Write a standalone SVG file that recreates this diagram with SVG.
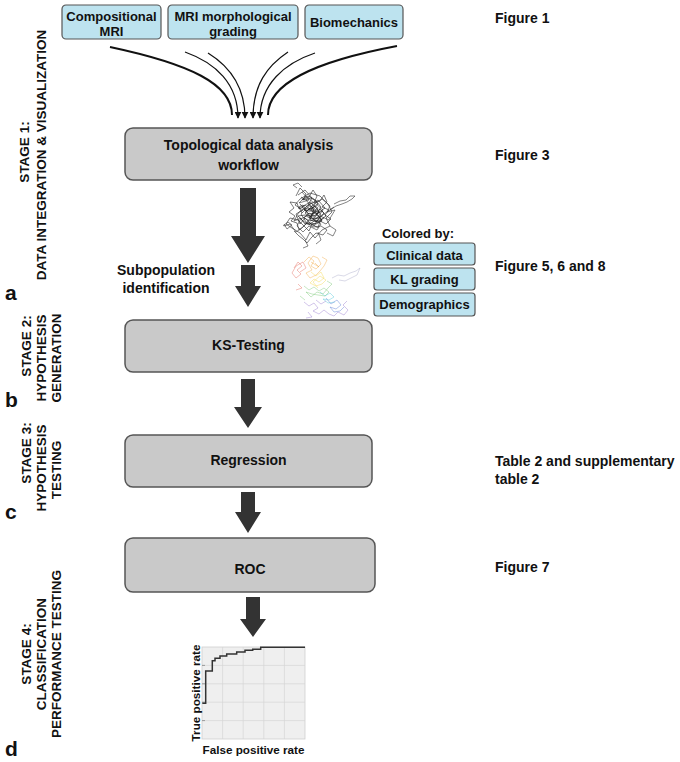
<svg xmlns="http://www.w3.org/2000/svg" width="680" height="762" viewBox="0 0 680 762">
<defs>
<style>
text{font-family:"Liberation Sans",Arial,sans-serif;font-weight:bold;fill:#111}
.t13{font-size:13px}
.t14{font-size:14px}
.lab{font-size:13.5px;text-anchor:middle}
.mid{text-anchor:middle}
.letter{font-size:21px}
.src{fill:#bde3ef;stroke:#555;stroke-width:1.2}
.step{fill:#c9c9c9;stroke:#555;stroke-width:1.5}
.big{fill:#333}
.cv{fill:none;stroke:#111;stroke-width:1.2}
.cvo{fill:none;stroke:#111;stroke-width:2}
.net{fill:none;stroke-width:0.6;stroke-linejoin:round}
.cnet{fill:none;stroke-width:0.6;stroke-linejoin:round;opacity:0.65}
.grid{stroke:#d6d6d6;stroke-width:0.7}
</style>
<marker id="ah" viewBox="0 0 10 10" refX="9" refY="5" markerWidth="7" markerHeight="7" markerUnits="userSpaceOnUse" orient="auto">
<path d="M0,0 L10,5 L0,10 Z" fill="#111"/>
</marker>
</defs>
<rect width="680" height="762" fill="#fff"/>

<g id="stage-labels">
<text class="lab" transform="translate(29,152) rotate(-90)">STAGE 1:</text>
<text class="lab" transform="translate(46,155) rotate(-90)">DATA INTEGRATION &amp; VISUALIZATION</text>
<text class="letter" x="5" y="300">a</text>
<text class="lab" transform="translate(31,346) rotate(-90)">STAGE 2:</text>
<text class="lab" transform="translate(46,358) rotate(-90)">HYPOTHESIS</text>
<text class="lab" transform="translate(61,358) rotate(-90)">GENERATION</text>
<text class="letter" x="5" y="407">b</text>
<text class="lab" transform="translate(31,453) rotate(-90)">STAGE 3:</text>
<text class="lab" transform="translate(46,468) rotate(-90)">HYPOTHESIS</text>
<text class="lab" transform="translate(61,470) rotate(-90)">TESTING</text>
<text class="letter" x="5" y="519">c</text>
<text class="lab" transform="translate(31,654) rotate(-90)">STAGE 4:</text>
<text class="lab" transform="translate(46,654) rotate(-90)">CLASSIFICATION</text>
<text class="lab" transform="translate(61,654) rotate(-90)">PERFORMANCE TESTING</text>
<text class="letter" x="5" y="756">d</text>
</g>

<g id="src-compositional">
<rect class="src" x="62" y="5" width="99" height="34" rx="4"/>
<text class="t13 mid" x="111.5" y="20.5">Compositional</text>
<text class="t13 mid" x="111.5" y="36">MRI</text>
</g>
<g id="src-morph">
<rect class="src" x="168" y="5" width="130" height="34" rx="4"/>
<text class="t13 mid" x="233" y="20.5">MRI morphological</text>
<text class="t13 mid" x="233" y="36">grading</text>
</g>
<g id="src-biomech">
<rect class="src" x="305" y="5" width="98" height="34" rx="4"/>
<text class="t13 mid" x="354" y="27">Biomechanics</text>
</g>

<g id="connectors">
<path class="cvo" d="M110,47 C190,64 232,84 232,115"/>
<path class="cv" d="M185,52 C216,63 238,84 238,118" marker-end="url(#ah)"/>
<path class="cv" d="M208,53 C229,66 245,85 245,118" marker-end="url(#ah)"/>
<path class="cv" d="M288,52 C267,66 253,85 253,118" marker-end="url(#ah)"/>
<path class="cv" d="M315,53 C285,63 260,84 260,118" marker-end="url(#ah)"/>
<path class="cvo" d="M397,46 C312,62 268,84 268,115"/>
<polygon class="big" points="240,188 256,188 256,236 265,236 248,263 231,236 240,236"/>
<polygon class="big" points="241,265 255,265 255,286 261,286 248,307 235,286 241,286"/>
<polygon class="big" points="241,379 255,379 255,407 262,407 248,428 234,407 241,407"/>
<polygon class="big" points="241,492 255,492 255,512 261,512 248,533 235,512 241,512"/>
<polygon class="big" points="246,597 260,597 260,619 266,619 253,637 240,619 246,619"/>
</g>

<g id="tda">
<rect class="step" x="125" y="128" width="247" height="52" rx="8"/>
<text class="t14 mid" x="248.5" y="150">Topological data analysis</text>
<text class="t14 mid" x="248.5" y="170">workflow</text>
</g>

<g id="network-black">
<path class="net" stroke="#222" d="M296,196 L300,188 L306,194 L303,200 L309,197 L313,190 L317,196 L314,203 L320,201 L324,195 L327,202 L322,207 L329,210 L325,215 L331,219 L326,224 L320,221 L318,228 L312,224 L309,231 L304,226 L299,230 L297,223 L291,221 L295,216 L289,212 L294,208 L290,202 L297,203 L299,209 L305,205 L310,209 L315,206 L319,212 L314,216 L309,213 L304,218 L310,221 L316,219 L321,215 L317,209 L311,203 L306,209 L301,214 L306,222 L313,227 L321,226 L327,230 L323,235 L316,233 L311,238 L307,243 L303,239 L299,236 L294,231"/>
<path class="net" stroke="#222" d="M298,195 L305,190 L312,198 L308,205 L318,200 L325,208 L316,214 L322,220 L312,225 L305,218 L300,224 L296,214 L303,210 L295,205 L300,199 L310,193 L320,196 L328,204 L332,212 L326,218 L330,226 L322,230 L315,238 L310,232 L306,240 L300,233 L292,228 L286,224 L290,218 L298,220 L304,226 L312,216 L318,208 L310,202 L302,207 L308,214 L316,222 L324,214 L334,207"/>
<path class="net" stroke="#333" d="M302,192 L309,200 L299,203 L306,196 L315,204 L311,210 L319,212 L313,219 L321,224 L317,230 L309,226 L303,232 L297,226 L301,218 L294,221 L299,212 L306,208 L314,212 L309,218 L317,218 L323,210 L315,203 L322,199 L330,206 L327,212 L335,210 L329,220 L320,216 L314,226 L308,222 L302,228 L296,232 L290,224 L284,226"/>
<path class="net" stroke="#111" stroke-width="1.1" d="M302,200 L308,196 L314,199 L318,204 L313,208 L308,205 L304,209 L309,214 L315,213 L320,209 L324,213 L319,218 L312,219 L306,216 L301,219 L305,224 L311,223 L316,224 L322,221 L318,215 L312,211 L307,211 L303,205 L299,207 L302,213 M306,200 L311,206 L316,210 L310,217 L305,213 L313,205"/>
<path class="net" stroke="#111" stroke-width="0.9" d="M300,204 L306,211 L312,208 L317,214 L322,211 L326,216 L320,220 L314,221 L309,225 L303,221 L298,216 L305,215 L311,216 L316,216 L321,207 L316,201 L311,198 L305,200 L301,197 M308,209 L314,209 L310,220 L318,222 L324,218"/>
<path class="net" stroke="#333" d="M330,210 L336,206 L342,204 L347,202 L352,199 L355,196 L350,196 L346,200 L340,201 L334,204 M283,226 L288,222 L292,225 L287,229 L284,224 M297,188 L293,185 L298,183 L302,187 M330,226 L336,230 L333,236 L327,233 M305,240 L308,246 L303,248 M318,232 L321,240 L316,244"/>
</g>

<g id="network-colored">
<path class="cnet" stroke="#e05a4a" d="M294,268 L298,262 L302,266 L297,270 L301,274 L296,278 L292,273 L296,266 L303,262 L306,268 L300,272 M298,284 L302,288 L296,290"/>
<path class="cnet" stroke="#f0a030" d="M304,262 L309,257 L314,261 L311,266 L316,269 L321,264 L318,258 L313,256 L308,263 L312,270 L306,273 L310,278 L316,275 L320,271 L324,266 L327,260 L322,257 M315,263 L319,267 L311,262"/>
<path class="cnet" stroke="#f2d33c" d="M311,272 L316,276 L321,272 L324,278 L319,282 L314,279 L310,283 L316,286 L322,284 L326,280 L320,276 L313,282 L318,288"/>
<path class="cnet" stroke="#6cc066" d="M304,286 L309,290 L314,287 L319,291 L324,288 L329,292 L325,296 L318,295 L312,294 L306,292 L311,297 L317,292 L323,294 L328,288 L332,284 L327,281 M300,296 L305,300"/>
<path class="cnet" stroke="#3ec0d5" d="M320,292 L325,296 L330,293 L334,297 L329,300 L323,299 L328,303 L335,302"/>
<path class="cnet" stroke="#4970d0" d="M326,298 L331,304 L337,300 L341,305 L336,309 L330,307 L334,312 L340,311 L344,307"/>
<path class="cnet" stroke="#8c6ac8" d="M304,302 L309,306 L314,303 L318,308 L313,311 L319,314 L324,310 L329,314 L334,316 L338,312 L344,315 L348,310 L343,305 L347,301 M308,312 L312,317 L306,318 M316,300 L321,304 L326,301"/>
<path class="cnet" stroke="#9e9ec0" d="M332,278 L338,275 L344,276 L350,273 L356,271 L360,268 L357,275 L351,278 L345,281 L339,280"/>
</g>

<g id="colored-by">
<text class="t13 mid" x="418" y="238">Colored by:</text>
<rect class="src" x="374" y="243" width="101" height="22" rx="3"/>
<text class="t13 mid" x="424.5" y="259.5">Clinical data</text>
<rect class="src" x="374" y="268" width="101" height="22" rx="3"/>
<text class="t13 mid" x="424.5" y="283.5">KL grading</text>
<rect class="src" x="374" y="293" width="101" height="23" rx="3"/>
<text class="t13 mid" x="424.5" y="309">Demographics</text>
</g>

<g id="subpop">
<text class="t14 mid" x="166" y="275">Subpopulation</text>
<text class="t14 mid" x="166" y="293">identification</text>
</g>

<g id="ks">
<rect class="step" x="125" y="320" width="247" height="52" rx="8"/>
<text class="t14 mid" x="248.5" y="350">KS-Testing</text>
</g>
<g id="regression">
<rect class="step" x="125" y="435" width="247" height="52" rx="8"/>
<text class="t14 mid" x="248.5" y="465">Regression</text>
</g>
<g id="roc">
<rect class="step" x="125" y="538" width="250" height="54" rx="8"/>
<text class="t14 mid" x="250" y="574">ROC</text>
</g>

<g id="roc-plot">
<rect x="202" y="647" width="103" height="92" fill="#efefef" stroke="#cfcfcf" stroke-width="0.8"/>
<line class="grid" x1="222.6" y1="647" x2="222.6" y2="739"/>
<line class="grid" x1="243.2" y1="647" x2="243.2" y2="739"/>
<line class="grid" x1="263.8" y1="647" x2="263.8" y2="739"/>
<line class="grid" x1="284.4" y1="647" x2="284.4" y2="739"/>
<line class="grid" x1="202" y1="665.4" x2="305" y2="665.4"/>
<line class="grid" x1="202" y1="683.8" x2="305" y2="683.8"/>
<line class="grid" x1="202" y1="702.2" x2="305" y2="702.2"/>
<line class="grid" x1="202" y1="720.6" x2="305" y2="720.6"/>
<g stroke="#888" stroke-width="0.8">
<line x1="202" y1="665.4" x2="205" y2="665.4"/>
<line x1="202" y1="683.8" x2="205" y2="683.8"/>
<line x1="202" y1="702.2" x2="205" y2="702.2"/>
<line x1="202" y1="720.6" x2="205" y2="720.6"/>
</g>
<path fill="none" stroke="#333" stroke-width="1.5" d="M202.3,703.3 L205.7,703.3 L205.7,671 L212.3,671 L212.3,660.7 L215,660.7 L215,658.3 L220,658.3 L220,656 L226.7,656 L226.7,654 L236.7,654 L236.7,652 L245,652 L245,650.3 L252.7,650.3 L252.7,649.3 L260.7,649.3 L260.7,647.3 L305,647.3"/>
<text font-size="11.7" text-anchor="middle" transform="translate(200,693) rotate(-90)">True positive rate</text>
<text font-size="11.7" text-anchor="middle" x="253.5" y="754">False positive rate</text>
</g>

<g id="refs">
<text class="t14" x="495" y="23">Figure 1</text>
<text class="t14" x="495" y="160">Figure 3</text>
<text class="t14" x="495" y="271">Figure 5, 6 and 8</text>
<text class="t14" x="495" y="466">Table 2 and supplementary</text>
<text class="t14" x="495" y="484">table 2</text>
<text class="t14" x="495" y="572">Figure 7</text>
</g>
</svg>
